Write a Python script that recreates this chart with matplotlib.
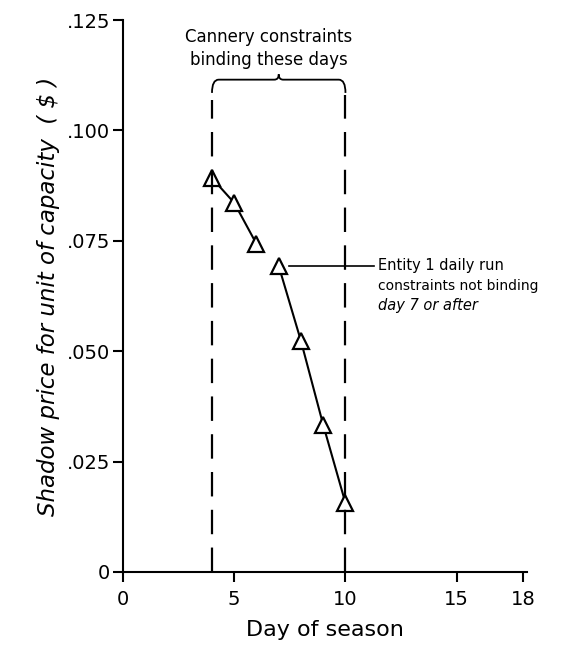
import matplotlib.pyplot as plt
from matplotlib.path import Path
from matplotlib.patches import PathPatch

# shadow price per day
days_a = [4, 5, 6]
price_a = [0.0892, 0.0836, 0.0743]
days_b = [7, 8, 9, 10]
price_b = [0.0693, 0.0523, 0.0333, 0.0156]

xticks = [0, 5, 10, 15, 18]
yticks = [0, 0.025, 0.050, 0.075, 0.100, 0.125]
ylabels = ['0', '.025', '.050', '.075', '.100', '.125']

bind_start, bind_end = 4, 10

plt.rcParams['font.family'] = 'DejaVu Sans'

fig = plt.figure(figsize=(5.81, 6.51), dpi=100)
ax = fig.add_axes([0.2117, 0.1214, 0.695, 0.8478])

mstyle = dict(marker='^', markersize=11, markerfacecolor='white',
              markeredgecolor='black', markeredgewidth=1.6,
              color='black', linewidth=1.5)
ax.plot(days_a, price_a, **mstyle)
ax.plot(days_b, price_b, **mstyle)

# binding period dashed lines
dash = dict(color='black', linewidth=1.6, dashes=(11, 6))
ax.plot([bind_start, bind_start], [0, 0.107], **dash)
ax.plot([bind_end, bind_end], [0, 0.108], **dash)

# bracket over the binding period
yb = 0.1115
mid = (bind_start + bind_end) / 2.
verts = [(bind_start, 0.1085), (bind_start, yb), (bind_start + 0.3, yb),
         (mid - 0.2, yb), (mid, yb), (mid, yb + 0.0012),
         (mid, yb), (mid + 0.2, yb),
         (bind_end - 0.3, yb), (bind_end, yb), (bind_end, 0.1085)]
codes = [Path.MOVETO, Path.CURVE3, Path.CURVE3,
         Path.LINETO, Path.CURVE3, Path.CURVE3,
         Path.CURVE3, Path.CURVE3,
         Path.LINETO, Path.CURVE3, Path.CURVE3]
ax.add_patch(PathPatch(Path(verts, codes), facecolor='none',
                       edgecolor='black', linewidth=1.3))
ax.text(6.55, 0.1185, 'Cannery constraints\nbinding these days',
        ha='center', va='center', fontsize=12, linespacing=1.35)

# annotation for day 7
ax.plot([7.45, 11.3], [price_b[0], price_b[0]], color='black', linewidth=1.2)
ax.text(11.45, price_b[0], 'Entity 1 daily run', ha='left', va='center',
        fontsize=10.5)
ax.text(11.45, price_b[0] - 0.0045, 'constraints not binding', ha='left',
        va='center', fontsize=10)
ax.text(11.45, price_b[0] - 0.009, 'day 7 or after', ha='left',
        va='center', fontsize=10.5, style='italic')

ax.set_xlim(0, 18.15)
ax.set_ylim(0, 0.125)
ax.set_xticks(xticks)
ax.set_yticks(yticks)
ax.set_yticklabels(ylabels)
for s in ['top', 'right']:
    ax.spines[s].set_visible(False)
for s in ['left', 'bottom']:
    ax.spines[s].set_linewidth(1.5)
ax.tick_params(axis='both', direction='out', length=7, width=1.5,
               labelsize=14)
ax.tick_params(axis='y', pad=2)
ax.tick_params(axis='x', pad=6)
ax.set_xlabel('Day of season', fontsize=16, labelpad=8)
ax.set_ylabel('Shadow price for unit of capacity  ( $ )',
              fontsize=16.5, style='italic', labelpad=5)

fig.savefig('out.png', dpi=100)
